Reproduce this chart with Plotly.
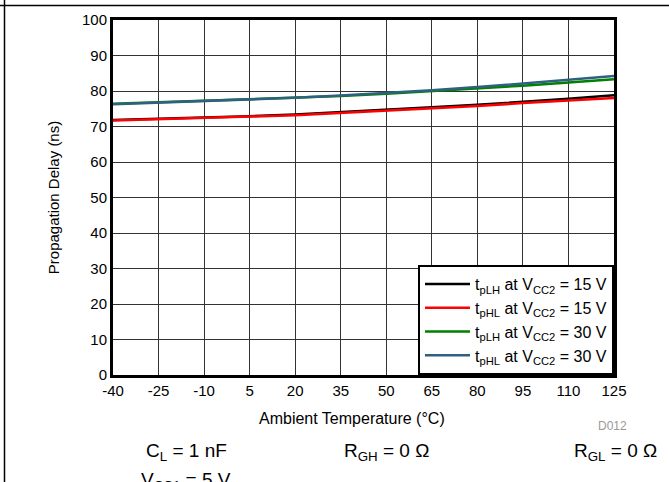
import plotly.graph_objects as go

temps = [-40, -25, -10, 5, 20, 35, 50, 65, 80, 95, 110, 125]
tplh_15 = [71.8, 72.1, 72.5, 72.9, 73.4, 74.0, 74.7, 75.4, 76.1, 76.9, 77.8, 78.8]
tphl_15 = [71.7, 72.0, 72.4, 72.8, 73.2, 73.8, 74.4, 75.1, 75.8, 76.6, 77.3, 78.0]
tplh_30 = [76.4, 76.8, 77.2, 77.6, 78.1, 78.6, 79.2, 79.9, 80.7, 81.5, 82.4, 83.3]
tphl_30 = [76.3, 76.7, 77.1, 77.6, 78.1, 78.7, 79.4, 80.2, 81.1, 82.1, 83.1, 84.2]
x_ticks = [-40, -25, -10, 5, 20, 35, 50, 65, 80, 95, 110, 125]
x_ticklabels = ["-40", "-25", "-10", "5", "20", "35", "50", "65", "80", "95", "110", "125"]
y_ticks = [0, 10, 20, 30, 40, 50, 60, 70, 80, 90, 100]

series = [
    ("t<sub>pLH</sub> at V<sub>CC2</sub> = 15 V", tplh_15, "#000000"),
    ("t<sub>pHL</sub> at V<sub>CC2</sub> = 15 V", tphl_15, "#ff0000"),
    ("t<sub>pLH</sub> at V<sub>CC2</sub> = 30 V", tplh_30, "#008000"),
    ("t<sub>pHL</sub> at V<sub>CC2</sub> = 30 V", tphl_30, "#2e6180"),
]

fig = go.Figure()
for name, ys, col in series:
    fig.add_trace(go.Scatter(x=temps, y=ys, mode="lines", name=name,
                             line=dict(color=col, width=2.5)))

font = "Liberation Sans, Arial, sans-serif"
fig.update_layout(
    width=669, height=482,
    margin=dict(l=113, r=55, t=20, b=107),
    paper_bgcolor="white", plot_bgcolor="white",
    font=dict(family=font, size=15, color="black"),
    showlegend=True,
    legend=dict(x=1, y=0, xanchor="right", yanchor="bottom",
                bgcolor="white", bordercolor="black", borderwidth=2,
                font=dict(size=16), tracegroupgap=0, itemwidth=45),
    xaxis=dict(range=[-40, 125], tickvals=x_ticks, ticktext=x_ticklabels, ticks="",
               showgrid=True, gridcolor="#333333", gridwidth=1,
               showline=True, linecolor="black", linewidth=3, mirror=True,
               zeroline=False, tickfont=dict(size=15)),
    yaxis=dict(range=[0, 100], tickvals=y_ticks, ticks="",
               showgrid=True, gridcolor="#333333", gridwidth=1,
               showline=True, linecolor="black", linewidth=3, mirror=True,
               zeroline=False,
               title=dict(text="Propagation Delay (ns)", font=dict(size=15), standoff=19),
               tickfont=dict(size=15)),
)

def px_x(px):
    return (px - 113) / 501.0

def px_y(py):
    return (375 - py) / 355.0

annos = [
    ("Ambient Temperature (\u00b0C)", 352, 418, 16, "black"),
    ("C<sub>L</sub> = 1 nF", 186, 452, 19, "black"),
    ("R<sub>GH</sub> = 0 \u03a9", 386, 452, 19, "black"),
    ("R<sub>GL</sub> = 0 \u03a9", 615, 452, 19, "black"),
    ("V<sub>CC1</sub> = 5 V", 186, 481, 19, "black"),
    ("D012", 612, 426, 12, "#999999"),
]
for txt, px, py, sz, col in annos:
    fig.add_annotation(text=txt, x=px_x(px), y=px_y(py), xref="paper", yref="paper",
                       showarrow=False, xanchor="center", yanchor="middle",
                       font=dict(size=sz, color=col, family=font))

fig.add_shape(type="line", xref="paper", yref="paper",
              x0=px_x(-10), x1=px_x(700), y0=px_y(5.5), y1=px_y(5.5),
              line=dict(color="black", width=1.5))
fig.add_shape(type="line", xref="paper", yref="paper",
              x0=px_x(4.5), x1=px_x(4.5), y0=px_y(-10), y1=px_y(500),
              line=dict(color="black", width=1.5))

fig.write_html("out.html", config={"displayModeBar": False},
               post_script="document.body.style.margin='0';document.body.style.overflow='hidden';")
